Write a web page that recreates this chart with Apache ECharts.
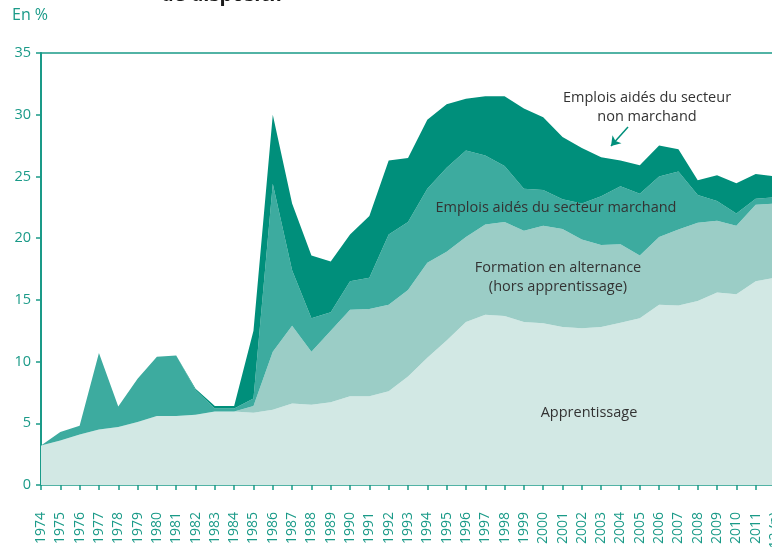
<!DOCTYPE html>
<html>
<head>
<meta charset="utf-8">
<script src="https://cdn.jsdelivr.net/npm/echarts@6/dist/echarts.min.js"></script>
<style>
  html, body { margin: 0; padding: 0; background: #fff; }
  #chart { width: 772px; height: 547px; }
</style>
</head>
<body>
<div id="chart"></div>
<script>
// années
const years = ['1974', '1975', '1976', '1977', '1978', '1979', '1980', '1981', '1982', '1983',
  '1984', '1985', '1986', '1987', '1988', '1989', '1990', '1991', '1992', '1993',
  '1994', '1995', '1996', '1997', '1998', '1999', '2000', '2001', '2002', '2003',
  '2004', '2005', '2006', '2007', '2008', '2009', '2010', '2011', '2012 (p)']

// parts en %
const apprentissage = [3.2, 3.6, 4.1, 4.5, 4.7, 5.1, 5.6, 5.6, 5.7, 5.95,
  5.95, 5.85, 6.1, 6.6, 6.5, 6.7, 7.2, 7.2, 7.6, 8.8,
  10.3, 11.7, 13.2, 13.8, 13.7, 13.2, 13.1, 12.8, 12.7, 12.8,
  13.15, 13.5, 14.6, 14.55, 14.9, 15.6, 15.45, 16.5, 16.8]
const formation = [0, 0, 0, 0, 0, 0, 0, 0, 0, 0,
  0, 0.55, 4.7, 6.3, 4.3, 5.8, 7.0, 7.05, 7.0, 7.0,
  7.7, 7.2, 6.9, 7.3, 7.6, 7.4, 7.9, 7.95, 7.2, 6.65,
  6.35, 5.1, 5.5, 6.15, 6.35, 5.8, 5.55, 6.2, 6.0]
const marchand = [0, 0.7, 0.7, 6.2, 1.65, 3.5, 4.8, 4.9, 2.0, 0.25,
  0.25, 0.6, 13.6, 4.5, 2.7, 1.5, 2.3, 2.55, 5.7, 5.5,
  6.0, 6.8, 7.0, 5.6, 4.55, 3.4, 2.9, 2.4, 2.9, 3.95,
  4.7, 5.0, 4.9, 4.7, 2.25, 1.6, 1.0, 0.5, 0.5]
const nonMarchand = [0, 0, 0, 0, 0, 0, 0, 0, 0.1, 0.2,
  0.2, 5.5, 5.6, 5.4, 5.1, 4.1, 3.8, 5.0, 6.0, 5.2,
  5.6, 5.15, 4.2, 4.8, 5.65, 6.5, 5.9, 5.05, 4.5, 3.15,
  2.1, 2.3, 2.5, 1.8, 1.2, 2.1, 2.45, 2.0, 1.7]

const yTicks = [0, 5, 10, 15, 20, 25, 30, 35]

const teal = '#1a9a88'
const font = '"Open Sans", "Noto Sans", sans-serif'

// série empilée en aire
function areaSeries(name, data, color) {
  return {
    name: name,
    type: 'line',
    stack: 'total',
    symbol: 'none',
    lineStyle: { width: 0 },
    areaStyle: { color: color, opacity: 1 },
    data: data
  }
}

// texte posé sur le graphique
function note(x, y, text, size) {
  return {
    type: 'text', x: x, y: y, z: 100,
    style: { text: text, fill: '#333', font: size + 'px ' + font, textAlign: 'center', lineHeight: 19 }
  }
}

const chart = echarts.init(document.getElementById('chart'))
chart.setOption({
  animation: false,
  textStyle: { fontFamily: font },
  grid: { left: 41, right: -3, top: 53, bottom: 62, outerBoundsMode: 'none', containLabel: false },
  xAxis: [
    {
      type: 'category',
      data: years,
      boundaryGap: false,
      axisLine: { lineStyle: { color: teal, width: 1.5 } },
      axisTick: { show: true, length: 5, lineStyle: { color: teal, width: 1.5 } },
      axisLabel: { rotate: 90, interval: 0, margin: 27, color: teal, fontSize: 14, fontFamily: font }
    },
    {
      // trait du haut à 35
      type: 'category',
      position: 'top',
      data: years,
      boundaryGap: false,
      axisLine: { lineStyle: { color: teal, width: 1.5 } },
      axisTick: { show: false },
      axisLabel: { show: false }
    }
  ],
  yAxis: {
    type: 'value',
    min: yTicks[0],
    max: yTicks[yTicks.length - 1],
    interval: 5,
    axisLine: { show: true, lineStyle: { color: teal, width: 2 } },
    axisTick: { show: true, length: 5, lineStyle: { color: teal, width: 1.5 } },
    splitLine: { show: false },
    axisLabel: { color: teal, fontSize: 14.5, margin: 10, fontFamily: font }
  },
  series: [
    areaSeries('Apprentissage', apprentissage, '#d2e8e4'),
    areaSeries('Formation en alternance', formation, '#9bcdc6'),
    areaSeries('Emplois aidés du secteur marchand', marchand, '#3dab9f'),
    Object.assign(areaSeries('Emplois aidés du secteur non marchand', nonMarchand, '#008f7b'), {
      markLine: {
        silent: true,
        symbol: ['none', 'arrow'],
        symbolSize: 9,
        lineStyle: { color: '#008f7b', width: 1.5, type: 'solid' },
        label: { show: false },
        data: [[{ x: 628, y: 127 }, { x: 611, y: 146 }]]
      }
    })
  ],
  graphic: [
    { type: 'text', left: 12, top: 7, z: 100, style: { text: 'En %', fill: teal, font: '16px ' + font } },
    { type: 'text', x: 222, y: -15, z: 100, style: { text: 'de dispositif', fill: '#1a1a1a', font: 'bold 20px ' + font, textAlign: 'center' } },
    note(647, 88, 'Emplois aidés du secteur\nnon marchand', 14.5),
    note(556, 198, 'Emplois aidés du secteur marchand', 14.5),
    note(558, 258, 'Formation en alternance\n(hors apprentissage)', 14.5),
    note(589, 403, 'Apprentissage', 14.5)
  ]
})
</script>
</body>
</html>
